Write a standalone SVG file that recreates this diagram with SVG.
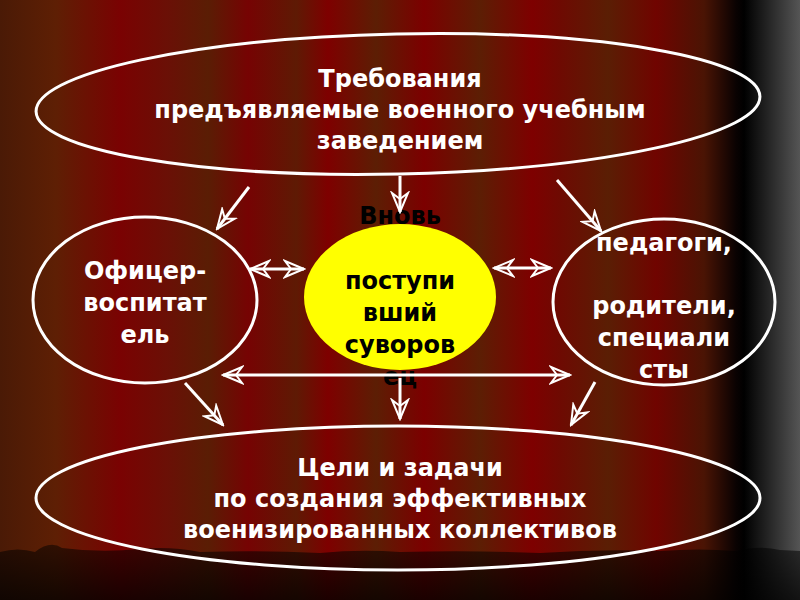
<svg xmlns="http://www.w3.org/2000/svg" width="800" height="600" viewBox="0 0 800 600">
<defs>
<linearGradient id="curtain" x1="0" y1="0" x2="800" y2="0" gradientUnits="userSpaceOnUse">
<stop offset="0" stop-color="#4a1a06"/>
<stop offset="0.07" stop-color="#5e1f04"/>
<stop offset="0.15" stop-color="#7a0202"/>
<stop offset="0.21" stop-color="#6a1006"/>
<stop offset="0.26" stop-color="#5a1d04"/>
<stop offset="0.31" stop-color="#760303"/>
<stop offset="0.37" stop-color="#5e1a04"/>
<stop offset="0.41" stop-color="#7e0000"/>
<stop offset="0.47" stop-color="#5c1e04"/>
<stop offset="0.53" stop-color="#7c0000"/>
<stop offset="0.6" stop-color="#5c1e04"/>
<stop offset="0.665" stop-color="#7e0000"/>
<stop offset="0.7" stop-color="#6e0a02"/>
<stop offset="0.76" stop-color="#5a1e04"/>
<stop offset="0.82" stop-color="#700400"/>
<stop offset="0.88" stop-color="#4a1404"/>
<stop offset="0.92" stop-color="#0a0202"/>
<stop offset="0.93" stop-color="#000000"/>
<stop offset="1" stop-color="#555555"/>
</linearGradient>
<linearGradient id="floor" x1="0" y1="545" x2="0" y2="600" gradientUnits="userSpaceOnUse">
<stop offset="0" stop-color="#000" stop-opacity="0.5"/>
<stop offset="1" stop-color="#000" stop-opacity="0.78"/>
</linearGradient>
<marker id="ah" viewBox="-21 -10 23 20" markerWidth="23" markerHeight="20" refX="0" refY="0" orient="auto-start-reverse" markerUnits="userSpaceOnUse">
<path d="M0,0 L-19,-8 L-13,0 L-19,8 Z" fill="none" stroke="#fff" stroke-width="2" stroke-linejoin="miter"/>
</marker>
<style>
.ring{fill:none;stroke:#fff;stroke-width:3}
.wt{font-family:"DejaVu Sans","Liberation Sans",sans-serif;font-weight:bold;font-size:24px;fill:#fff;text-anchor:middle}
.bk{font-family:"DejaVu Sans","Liberation Sans",sans-serif;font-weight:bold;font-size:24px;fill:#000;text-anchor:middle}
.con{stroke:#fff;stroke-width:3;fill:none;marker-end:url(#ah)}
.dbl{marker-start:url(#ah)}
</style>
</defs>
<rect x="0" y="0" width="800" height="600" fill="url(#curtain)"/>
<path d="M0,552 Q18,547 35,552 Q50,540 62,548 Q100,553 140,549 Q170,546 200,552 Q260,550 320,553 Q360,549 400,552 Q470,550 540,553 Q600,549 660,551 Q700,548 735,551 Q760,545 780,550 L800,551 L800,600 L0,600 Z" fill="url(#floor)"/>

<g id="node-top">
<ellipse class="ring" cx="398" cy="104" rx="362" ry="70" transform="rotate(-1.2 398 104)"/>
<text class="wt" x="400" y="87">Требования</text>
<text class="wt" x="400" y="118">предъявляемые военного учебным</text>
<text class="wt" x="400" y="149">заведением</text>
</g>
<g id="node-officer">
<ellipse class="ring" cx="145" cy="300" rx="112" ry="83"/>
<text class="wt" x="145" y="279">Офицер-</text>
<text class="wt" x="145" y="311">воспитат</text>
<text class="wt" x="145" y="343">ель</text>
</g>
<g id="node-cadet">
<ellipse cx="400" cy="297" rx="96" ry="73" fill="#ffff00"/>
<text class="bk" x="400" y="224">Вновь</text>
<text class="bk" x="400" y="289">поступи</text>
<text class="bk" x="400" y="321">вший</text>
<text class="bk" x="400" y="353">суворов</text>
<text class="bk" x="400" y="385">ец</text>
</g>
<g id="node-teachers">
<ellipse class="ring" cx="664" cy="302" rx="111" ry="83"/>
<text class="wt" x="664" y="251">педагоги,</text>
<text class="wt" x="664" y="314">родители,</text>
<text class="wt" x="664" y="346">специали</text>
<text class="wt" x="664" y="378">сты</text>
</g>
<g id="node-bottom">
<ellipse class="ring" cx="398" cy="498" rx="362" ry="72"/>
<text class="wt" x="400" y="476">Цели и задачи</text>
<text class="wt" x="400" y="507">по создания эффективных</text>
<text class="wt" x="400" y="538">военизированных коллективов</text>
</g>
<g id="connectors">
<line class="con" x1="400" y1="176" x2="400" y2="212"/>
<line class="con" x1="249" y1="187" x2="217" y2="229"/>
<line class="con" x1="557" y1="180" x2="601" y2="231"/>
<line class="con dbl" x1="250" y1="269" x2="304" y2="269"/>
<line class="con dbl" x1="494" y1="268" x2="551" y2="268"/>
<line class="con dbl" x1="223" y1="375" x2="570" y2="375"/>
<line class="con" x1="400" y1="378" x2="400" y2="419"/>
<line class="con" x1="185" y1="383" x2="223" y2="425"/>
<line class="con" x1="595" y1="382" x2="571" y2="425"/>
</g>
</svg>
